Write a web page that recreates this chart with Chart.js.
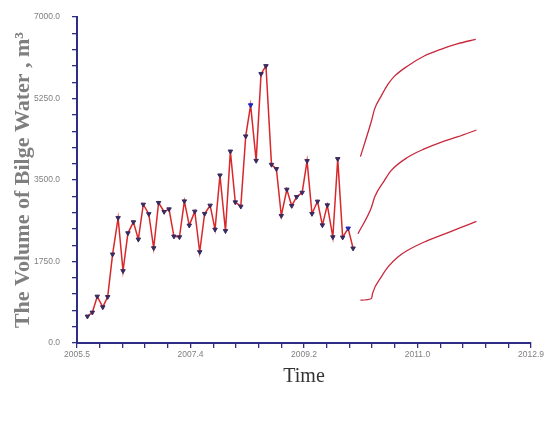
<!DOCTYPE html>
<html>
<head>
<meta charset="utf-8">
<script src="https://cdn.jsdelivr.net/npm/chart.js@4.4.1/dist/chart.umd.min.js"></script>
<style>
  body { margin: 0; background: #fff; }
  #wrap { width: 550px; height: 421px; }
</style>
</head>
<body>
<div id="wrap"><canvas id="myChart"></canvas></div>
<script>
// observed monthly volumes (decimal year)
const months = [2005.67, 2005.75, 2005.83, 2005.92, 2006.00, 2006.08, 2006.17, 2006.25, 2006.33, 2006.42,
    2006.50, 2006.58, 2006.67, 2006.75, 2006.83, 2006.92, 2007.00, 2007.08, 2007.17, 2007.25,
    2007.33, 2007.42, 2007.50, 2007.58, 2007.67, 2007.75, 2007.83, 2007.92, 2008.00, 2008.08,
    2008.17, 2008.25, 2008.33, 2008.42, 2008.50, 2008.58, 2008.67, 2008.75, 2008.83, 2008.92,
    2009.00, 2009.08, 2009.17, 2009.25, 2009.33, 2009.42, 2009.50, 2009.58, 2009.67, 2009.75,
    2009.83, 2009.92, 2010.00];
const volumes = [572, 657, 1000, 771, 991, 1905, 2687, 1548, 2361, 2597,
    2226, 2976, 2772, 2040, 3012, 2819, 2875, 2291, 2276, 3046,
    2526, 2826, 1955, 2777, 2954, 2440, 3603, 2408, 4117, 3025,
    2933, 4442, 5110, 3917, 5780, 5951, 3832, 3740, 2734, 3297,
    2948, 3140, 3232, 3911, 2777, 3040, 2532, 2961, 2276, 3954,
    2269, 2462, 2034];
const blueIdx = [32, 51];

// forecast curves
const upperX = [2010.12, 2010.30, 2010.35, 2010.46, 2010.57, 2010.68, 2010.89, 2011.16, 2011.43, 2011.71, 2012.00];
const upperY = [4003, 4774, 5024, 5309, 5559, 5737, 5951, 6165, 6308, 6429, 6522];
const middleX = [2010.08, 2010.30, 2010.35, 2010.51, 2010.62, 2010.89, 2011.16, 2011.43, 2011.71, 2012.01];
const middleY = [2348, 2918, 3132, 3489, 3703, 3988, 4168, 4310, 4431, 4575];
const lowerX = [2010.12, 2010.30, 2010.32, 2010.46, 2010.57, 2010.73, 2010.89, 2011.16, 2011.43, 2011.71, 2012.01];
const lowerY = [920, 956, 1077, 1420, 1634, 1848, 1991, 2169, 2312, 2455, 2612];

// axis ticks
const xTickLabels = ['2005.5', '2007.4', '2009.2', '2011.0', '2012.9'];
const xMin = 2005.5, xMax = 2012.9;
const yTickLabels = ['0.0', '1750.0', '3500.0', '5250.0', '7000.0'];

function pts(xs, ys) {
    return xs.map((x, i) => ({ x: x, y: ys[i] }));
}

const axisColor = '#2e2e86';
const ctx = document.getElementById('myChart').getContext('2d');

const forecastStyle = {
    borderColor: '#c8283c',
    borderWidth: 1.3,
    pointRadius: 0,
    cubicInterpolationMode: 'monotone',
    fill: false
};

new Chart(ctx, {
    type: 'line',
    data: {
        datasets: [{
            label: 'Observed',
            data: pts(months, volumes),
            borderColor: '#d8282a',
            borderWidth: 1.5,
            pointStyle: 'triangle',
            rotation: 180,
            pointRadius: 2.6,
            pointBorderWidth: 1,
            pointBackgroundColor: c => blueIdx.includes(c.dataIndex) ? '#2424b8' : '#3a2a5e',
            pointBorderColor: c => blueIdx.includes(c.dataIndex) ? '#2424b8' : '#3a2a5e',
            fill: false
        },
        Object.assign({ label: 'Upper', data: pts(upperX, upperY) }, forecastStyle),
        Object.assign({ label: 'Middle', data: pts(middleX, middleY) }, forecastStyle),
        Object.assign({ label: 'Lower', data: pts(lowerX, lowerY) }, forecastStyle)]
    },
    options: {
        responsive: true,
        maintainAspectRatio: false,
        animation: false,
        layout: { padding: { left: 0, top: 16, right: 19, bottom: 0 } },
        plugins: {
            legend: { display: false },
            tooltip: { enabled: false }
        },
        scales: {
            x: {
                type: 'linear',
                min: xMin,
                max: xMax,
                afterBuildTicks: function(scale) {
                    const ticks = [];
                    for (let i = 0; i <= 20; i++) {
                        ticks.push({ value: xMin + (xMax - xMin) * i / 20 });
                    }
                    scale.ticks = ticks;
                },
                afterFit: function(scale) { scale.height = 78; },
                ticks: {
                    autoSkip: false,
                    maxRotation: 0,
                    padding: 2,
                    color: '#808080',
                    font: { family: 'Liberation Sans', size: 8.5 },
                    callback: function(value, index) {
                        return index % 5 === 0 ? xTickLabels[index / 5] : '';
                    }
                },
                grid: {
                    drawOnChartArea: false,
                    color: axisColor,
                    lineWidth: 1.3,
                    tickLength: 5
                },
                border: { color: axisColor, width: 2 },
                title: {
                    display: true,
                    text: 'Time',
                    color: '#333',
                    font: { family: 'Liberation Serif', size: 20 },
                    padding: { top: 0, bottom: 32 }
                }
            },
            y: {
                min: 0,
                max: 7000,
                afterFit: function(scale) { scale.width = 77; },
                ticks: {
                    stepSize: 350,
                    autoSkip: false,
                    padding: 12,
                    color: '#808080',
                    font: { family: 'Liberation Sans', size: 8.5 },
                    callback: function(value, index) {
                        return index % 5 === 0 ? yTickLabels[index / 5] : '';
                    }
                },
                grid: {
                    drawOnChartArea: false,
                    color: axisColor,
                    lineWidth: 1.3,
                    tickLength: 5
                },
                border: { color: axisColor, width: 2 },
                title: {
                    display: true,
                    text: 'The Volume of Bilge Water , m\u00b3',
                    color: '#7f7f7f',
                    font: { family: 'Liberation Serif', size: 22, weight: 'bold' },
                    padding: { top: 10, bottom: 0 }
                }
            }
        }
    }
});
</script>
</body>
</html>
